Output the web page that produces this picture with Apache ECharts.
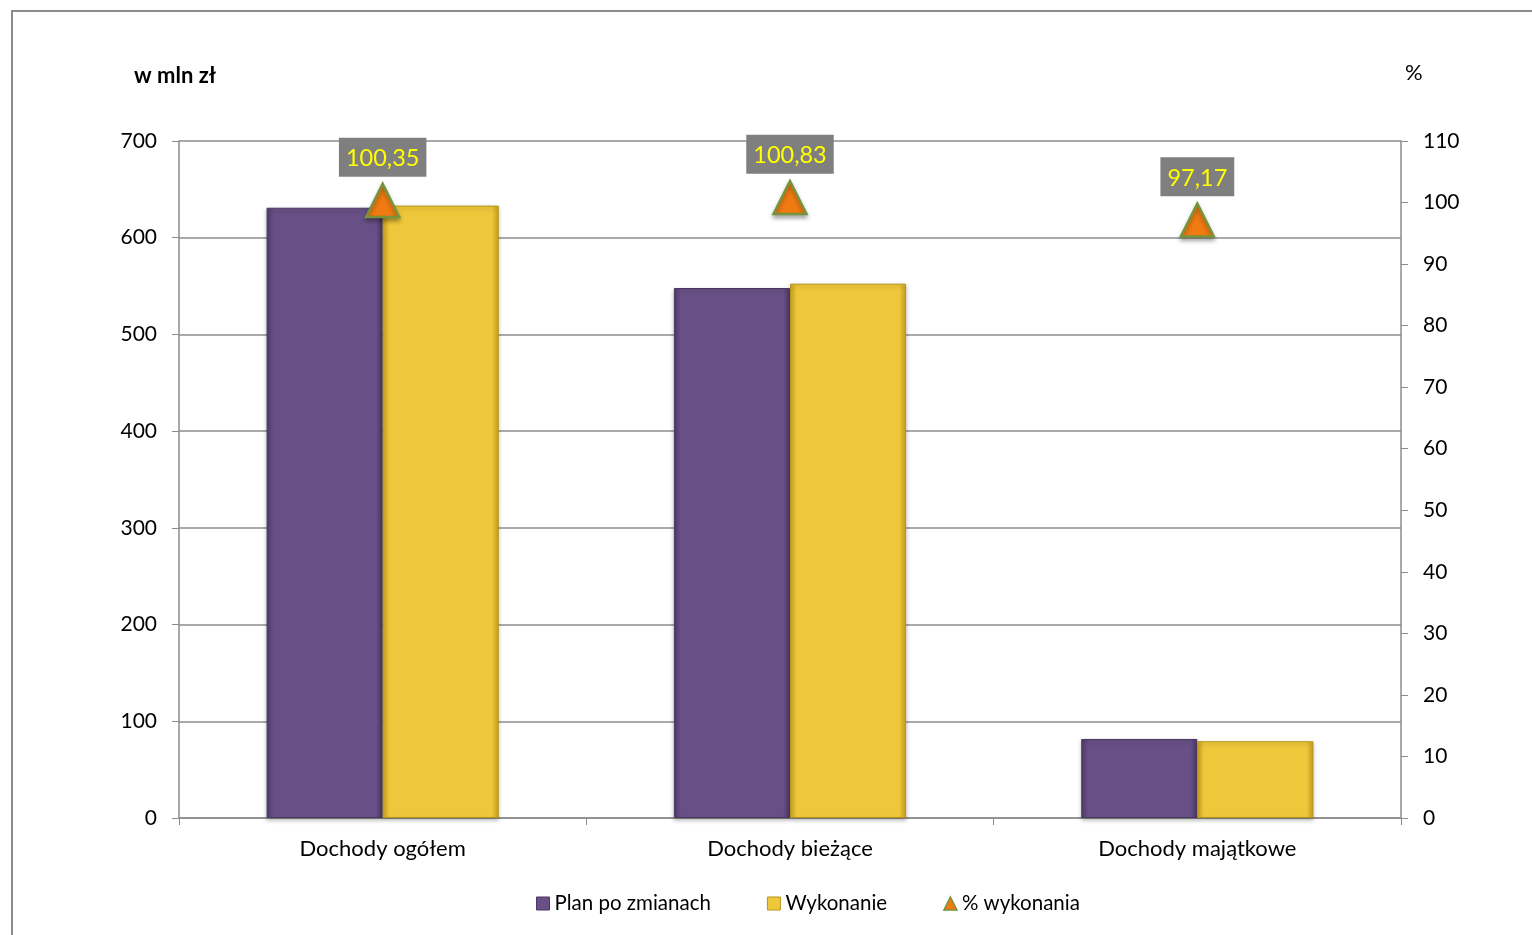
<!DOCTYPE html>
<html>
<head>
<meta charset="utf-8">
<script src="https://cdn.jsdelivr.net/npm/echarts@6/dist/echarts.min.js"></script>
<style>
html,body{margin:0;padding:0;background:#fff;}
#chart{width:1532px;height:935px;}
</style>
</head>
<body>
<div id="chart"></div>
<script>
const categories = ['Dochody ogółem', 'Dochody bieżące', 'Dochody majątkowe'];
const planValues = [631, 548, 81.7];
const wykonanieValues = [633.2, 552.5, 79.4];
const percentValues = [100.35, 100.83, 97.17];
const leftTicks = {min: 0, max: 700, interval: 100};
const rightTicks = {min: 0, max: 110, interval: 10};

const FONT = 'Lato, "Open Sans", sans-serif';

function bevel(base, dark) {
  return {
    type: 'linear', x: 0, y: 0, x2: 1, y2: 0,
    colorStops: [
      {offset: 0, color: dark},
      {offset: 0.06, color: base},
      {offset: 0.94, color: base},
      {offset: 1, color: dark}
    ]
  };
}

const chart = echarts.init(document.getElementById('chart'), null, {renderer: 'canvas'});
chart.setOption({
  animation: false,
  backgroundColor: '#ffffff',
  textStyle: {fontFamily: FONT},
  graphic: [
    {type: 'rect', shape: {x: 12, y: 11, width: 1600, height: 1000}, style: {fill: 'none', stroke: '#8c8c8c', lineWidth: 2}, silent: true, z: -10},
    {type: 'text', left: 134, top: 65, style: {text: 'w mln zł', font: 'bold 22px ' + FONT, fill: '#000'}},
    {type: 'text', left: 1405, top: 62, style: {text: '%', font: '22px ' + FONT, fill: '#000'}}
  ],
  grid: {left: 179, right: 131, top: 141, bottom: 117, containLabel: false},
  legend: {
    bottom: 16,
    left: 531,
    itemWidth: 13,
    itemHeight: 13,
    itemGap: 56,
    textStyle: {fontSize: 20.5, color: '#000', fontFamily: FONT},
    data: [
      {name: 'Plan po zmianach', icon: 'rect', itemStyle: {color: '#685086', borderColor: '#4a3863', borderWidth: 1}},
      {name: 'Wykonanie', icon: 'rect', itemStyle: {color: '#eec73a', borderColor: '#b8951a', borderWidth: 1}},
      {name: '% wykonania', icon: 'triangle', itemStyle: {color: '#f07b12', borderColor: '#77933c', borderWidth: 1.5}}
    ]
  },
  xAxis: {
    type: 'category',
    data: categories,
    axisLine: {show: true, lineStyle: {color: '#8c8c8c', width: 1.5}},
    axisTick: {show: true, length: 7, alignWithLabel: false, lineStyle: {color: '#8c8c8c'}},
    axisLabel: {fontSize: 22, color: '#000', margin: 20, fontFamily: FONT}
  },
  yAxis: [
    {
      type: 'value', min: leftTicks.min, max: leftTicks.max, interval: leftTicks.interval,
      axisLine: {show: true, lineStyle: {color: '#8c8c8c', width: 1.5}},
      axisTick: {show: true, length: 7, lineStyle: {color: '#8c8c8c'}},
      axisLabel: {fontSize: 21, color: '#000', margin: 22, fontFamily: FONT},
      splitLine: {show: true, lineStyle: {color: '#8c8c8c', width: 1.5}}
    },
    {
      type: 'value', min: rightTicks.min, max: rightTicks.max, interval: rightTicks.interval,
      position: 'right',
      axisLine: {show: true, lineStyle: {color: '#8c8c8c', width: 1.5}},
      axisTick: {show: true, length: 7, lineStyle: {color: '#8c8c8c'}},
      axisLabel: {fontSize: 21, color: '#000', margin: 22, fontFamily: FONT},
      splitLine: {show: false}
    }
  ],
  series: [
    {
      name: 'Plan po zmianach', type: 'bar', yAxisIndex: 0, data: planValues,
      barGap: '0%', barCategoryGap: '43%',
      itemStyle: {color: bevel('#685086', '#4f3b6a'), borderColor: '#4a3863', borderWidth: 1,
        shadowColor: 'rgba(0,0,0,0.25)', shadowBlur: 4, shadowOffsetY: 2}
    },
    {
      name: 'Wykonanie', type: 'bar', yAxisIndex: 0, data: wykonanieValues,
      itemStyle: {color: bevel('#eec73a', '#c9a220'), borderColor: '#b8951a', borderWidth: 1,
        shadowColor: 'rgba(0,0,0,0.25)', shadowBlur: 4, shadowOffsetY: 2}
    },
    {
      name: '% wykonania', type: 'line', yAxisIndex: 1, data: percentValues,
      symbol: 'triangle', symbolSize: [33, 33], z: 5,
      lineStyle: {opacity: 0, width: 0},
      itemStyle: {color: '#f07b12', borderColor: '#77933c', borderWidth: 2.5,
        shadowColor: 'rgba(0,0,0,0.3)', shadowBlur: 4, shadowOffsetY: 3},
      label: {
        show: true, position: 'top', distance: 6,
        formatter: p => p.value.toFixed(2).replace('.', ','),
        color: '#ffff00', fontSize: 23.5, fontFamily: FONT,
        backgroundColor: '#7f7f7f', padding: [9, 7, 6, 7]
      }
    }
  ]
});
</script>
</body>
</html>
